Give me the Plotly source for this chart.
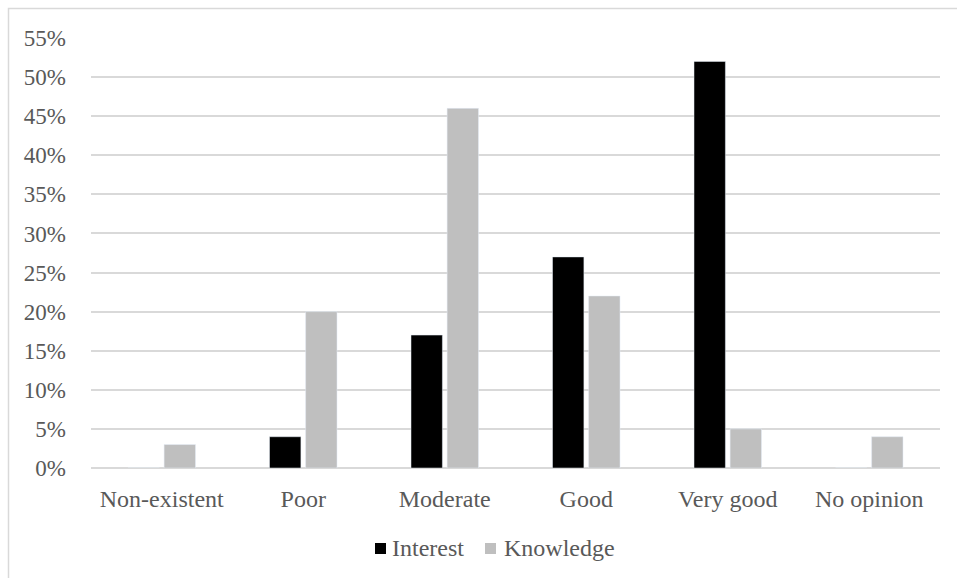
import plotly.graph_objects as go

categories = ["Non-existent", "Poor", "Moderate", "Good", "Very good", "No opinion"]
interest = [0.00, 0.04, 0.17, 0.27, 0.52, 0.00]
knowledge = [0.03, 0.20, 0.46, 0.22, 0.05, 0.04]
y_ticks = [i * 0.05 for i in range(12)]
series_names = ["Interest", "Knowledge"]
series_colors = ["#000000", "#bfbfbf"]

W, H = 957, 578
L, R, T, B = 91, 17, 38, 110
pw, ph = W - L - R, H - T - B

def px(x):
    return (x - L) / pw

def py(y):
    return (H - B - y) / ph

fig = go.Figure()
for name, vals, col in zip(series_names, [interest, knowledge], series_colors):
    fig.add_bar(name=name, x=categories, y=vals, marker_color=col, showlegend=False)

font = dict(family="Liberation Serif, Times New Roman, serif", size=24, color="#595959")
yfont = dict(family="Liberation Serif, Times New Roman, serif", size=23, color="#595959")

# legend (swatch + label) positions in pixels
legend_swatch_x = [375, 485]
legend_text_x = [390, 502]
legend_y = 548
sw = 11

shapes = [dict(type="rect", xref="paper", yref="paper",
               x0=px(8.5), x1=px(962), y0=py(8.5), y1=py(590),
               line=dict(color="#d9d9d9", width=1.5), fillcolor="rgba(0,0,0,0)",
               layer="below")]
annotations = []
for n, c, sx, tx in zip(series_names, series_colors, legend_swatch_x, legend_text_x):
    shapes.append(dict(type="rect", xref="paper", yref="paper",
                       x0=px(sx), x1=px(sx + sw), y0=py(legend_y - sw / 2 + 0.5),
                       y1=py(legend_y + sw / 2 + 0.5),
                       line=dict(width=0), fillcolor=c))
    annotations.append(dict(text=n, xref="paper", yref="paper", x=px(tx), y=py(legend_y),
                            xanchor="left", yanchor="middle", showarrow=False, font=font))

fig.update_layout(
    width=W, height=H,
    margin=dict(l=L, r=R, t=T, b=B, pad=0),
    paper_bgcolor="white", plot_bgcolor="white",
    font=font,
    barmode="group", bargap=0.49, bargroupgap=0.13,
    showlegend=False,
    xaxis=dict(showgrid=False, showline=False, zeroline=False, ticks="",
               ticklabelstandoff=14, tickfont=font),
    yaxis=dict(range=[0, 0.55], tickvals=y_ticks, tickformat=".0%",
               showgrid=True, gridcolor="#d9d9d9", gridwidth=1.5,
               zeroline=True, zerolinecolor="#d9d9d9", zerolinewidth=1.5,
               showline=False, ticks="", ticklabelstandoff=24, tickfont=yfont),
    annotations=annotations,
    shapes=shapes,
)

fig.write_html("out.html")
